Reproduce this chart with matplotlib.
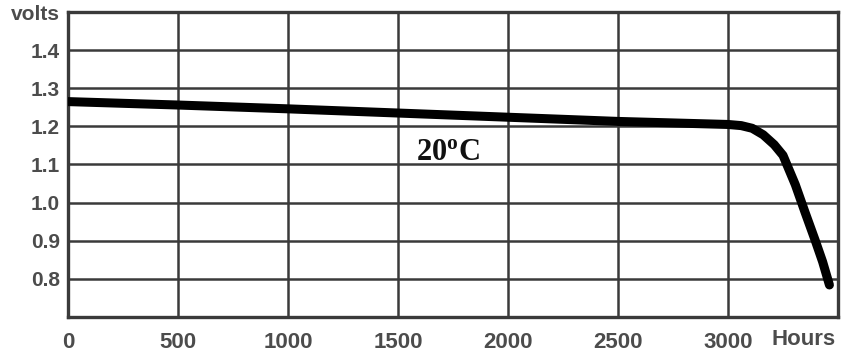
import matplotlib
matplotlib.use("Agg")
import matplotlib.pyplot as plt
import numpy as np

plt.rcParams["mathtext.fontset"] = "custom"
plt.rcParams["mathtext.rm"] = "Liberation Serif:bold"
plt.rcParams["mathtext.bf"] = "Liberation Serif:bold"
plt.rcParams["mathtext.it"] = "Liberation Serif:bold"

hours = [0, 500, 1000, 1500, 2000, 2500, 3000, 3060, 3110, 3160, 3210, 3250, 3306, 3350, 3397, 3430, 3461]
volts = [1.265, 1.256, 1.246, 1.235, 1.224, 1.213, 1.205, 1.202, 1.195, 1.178, 1.152, 1.124, 1.047, 0.975, 0.900, 0.845, 0.784]

xticks = [0, 500, 1000, 1500, 2000, 2500, 3000]
xticklabels = ["0", "500", "1000", "1500", "2000", "2500", "3000"]
yticks = [0.8, 0.9, 1.0, 1.1, 1.2, 1.3, 1.4, 1.5]
yticklabels = ["0.8", "0.9", "1.0", "1.1", "1.2", "1.3", "1.4", "volts"]
x_unit = "Hours"
curve_label = r"$\mathrm{20^{o}C}$"

fig = plt.figure(figsize=(8.47, 3.6), dpi=100)
ax = fig.add_axes([68/847, 43/360, (838-68)/847, (317-12)/360])

ax.set_xlim(0, 3500)
ax.set_ylim(0.7, 1.5)
ax.set_xticks(xticks)
ax.set_xticklabels(xticklabels)
ax.set_yticks(yticks)
ax.set_yticklabels(yticklabels)

gc = "#3a3a3a"
ax.grid(True, color=gc, linewidth=1.8)
ax.set_axisbelow(True)
for s in ax.spines.values():
    s.set_color(gc)
    s.set_linewidth(2.4)

lc = "#4c4c4c"
ax.tick_params(length=0, labelcolor=lc)
ax.tick_params(axis="x", labelsize=16, pad=11)
ax.tick_params(axis="y", labelsize=15, pad=6)
for t in ax.get_xticklabels() + ax.get_yticklabels():
    t.set_fontweight("bold")
    t.set_family("Liberation Sans")

ax.plot(hours, volts, color="black", linewidth=6.5, solid_capstyle="round",
        solid_joinstyle="round", zorder=5)

ax.text(1728, 1.135, curve_label, ha="center", va="center", fontsize=22,
        color="#111111", zorder=6)

ax.text(3345, -12/305, x_unit, transform=ax.get_xaxis_transform(), ha="center", va="top",
        fontsize=16, fontweight="bold", family="Liberation Sans", color=lc)

fig.savefig("out.png", dpi=100, facecolor="white")
